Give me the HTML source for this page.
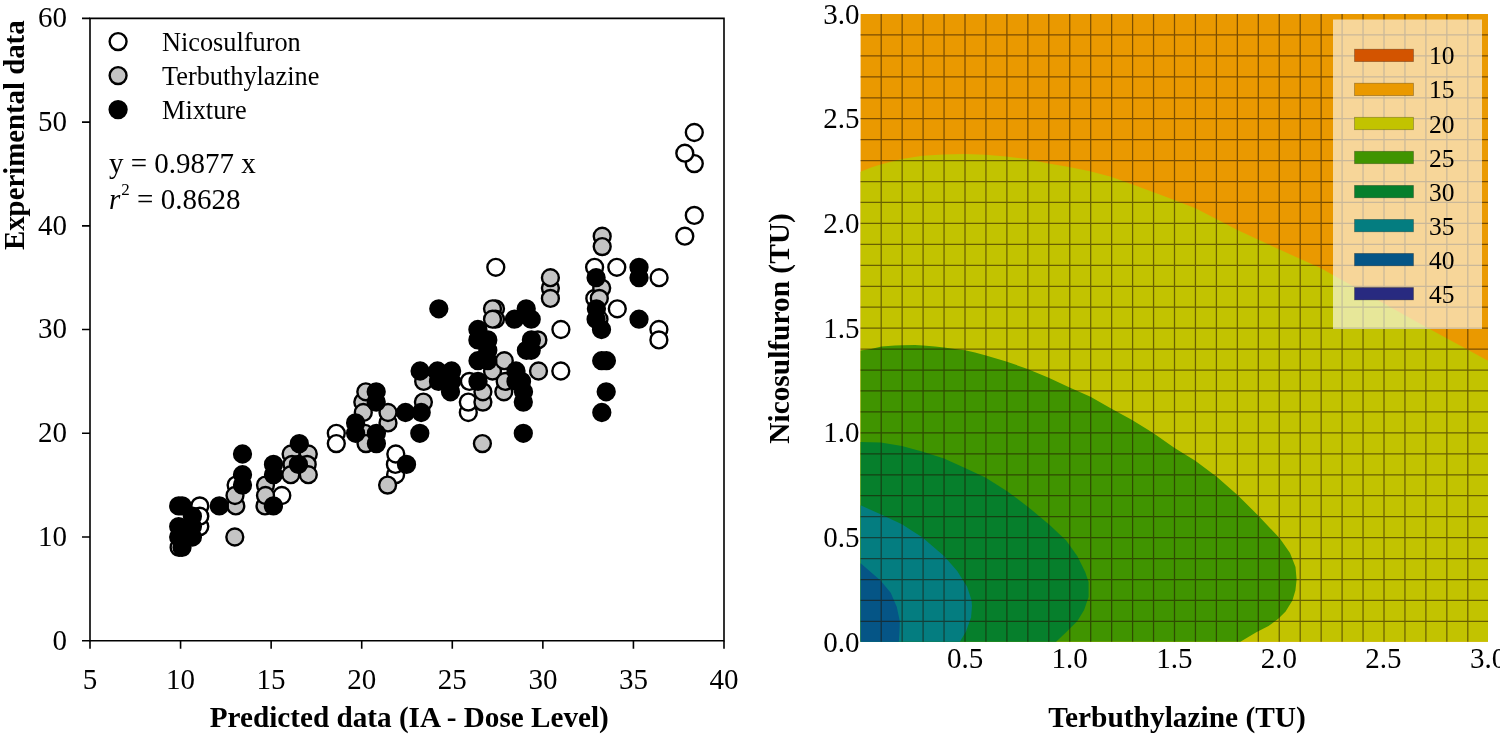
<!DOCTYPE html>
<html><head><meta charset="utf-8"><style>html,body{margin:0;padding:0;background:#fff;overflow:hidden}</style></head><body>
<svg width="1500" height="736" viewBox="0 0 1500 736" style="display:block;will-change:transform">
<rect width="1500" height="736" fill="#fff"/>
<rect x="860.6" y="14.0" width="627.4" height="627.7" fill="#EA9900"/>
<path d="M860.6,171.8 L871.0,167.5 L881.4,164.2 L901.9,159.1 L922.5,155.8 L943.0,154.4 L965.0,153.9 L985.5,154.7 L1006.1,156.4 L1026.6,159.1 L1048.6,163.5 L1069.1,167.1 L1090.0,171.3 L1111.0,176.7 L1132.0,184.3 L1153.0,192.0 L1175.0,200.3 L1196.0,208.5 L1238.0,230.3 L1279.0,249.3 L1321.0,268.3 L1333.0,275.0 L1425.5,326.8 L1488.0,360.7 L1488.0,641.7 L860.6,641.7 Z" fill="#C2C300"/>
<path d="M860.6,350.5 L871.0,349.0 L881.5,346.5 L895.0,345.5 L902.5,345.2 L915.0,345.0 L923.0,345.5 L935.0,346.5 L944.0,347.5 L955.0,349.0 L965.0,350.2 L975.0,352.5 L986.0,355.5 L1006.3,361.5 L1027.6,369.0 L1048.7,377.7 L1069.6,387.5 L1090.5,396.8 L1111.1,408.5 L1132.1,420.0 L1153.2,433.1 L1174.2,447.7 L1195.3,460.7 L1217.0,477.0 L1238.3,495.7 L1259.6,517.0 L1279.7,538.3 L1290.0,553.0 L1295.5,567.0 L1296.6,579.6 L1295.4,590.6 L1292.4,600.4 L1285.6,611.4 L1278.3,618.7 L1268.5,626.1 L1256.3,632.2 L1240.4,641.7 L860.6,641.7 Z" fill="#409400"/>
<path d="M860.6,442.0 L880.8,442.5 L901.9,446.0 L922.9,451.7 L944.0,458.5 L965.0,468.0 L985.4,477.5 L1006.8,491.0 L1028.1,506.9 L1049.4,524.8 L1066.2,540.5 L1077.4,556.2 L1085.2,571.9 L1088.6,582.0 L1088.6,597.0 L1084.1,609.9 L1077.4,621.1 L1066.2,632.3 L1056.1,641.7 L860.6,641.7 Z" fill="#067F2C"/>
<path d="M860.6,505.3 L880.6,514.3 L901.9,524.2 L922.5,537.5 L944.3,556.3 L957.0,570.8 L967.1,586.7 L971.5,600.0 L972.0,606.0 L971.1,617.3 L966.0,631.5 L959.9,641.7 L860.6,641.7 Z" fill="#047D80"/>
<path d="M860.6,563.3 L880.5,580.6 L890.7,592.8 L896.8,607.1 L899.8,621.3 L899.5,631.0 L898.8,641.7 L860.6,641.7 Z" fill="#055586"/>
<path d="M881.20,14.0V641.7M902.15,14.0V641.7M923.10,14.0V641.7M944.05,14.0V641.7M965.00,14.0V641.7M985.95,14.0V641.7M1006.90,14.0V641.7M1027.85,14.0V641.7M1048.80,14.0V641.7M1069.75,14.0V641.7M1090.70,14.0V641.7M1111.65,14.0V641.7M1132.60,14.0V641.7M1153.55,14.0V641.7M1174.50,14.0V641.7M1195.45,14.0V641.7M1216.40,14.0V641.7M1237.35,14.0V641.7M1258.30,14.0V641.7M1279.25,14.0V641.7M1300.20,14.0V641.7M1321.15,14.0V641.7M1342.10,14.0V641.7M1363.05,14.0V641.7M1384.00,14.0V641.7M1404.95,14.0V641.7M1425.90,14.0V641.7M1446.85,14.0V641.7M1467.80,14.0V641.7M860.6,621.40H1488.0M860.6,600.45H1488.0M860.6,579.51H1488.0M860.6,558.56H1488.0M860.6,537.62H1488.0M860.6,516.67H1488.0M860.6,495.72H1488.0M860.6,474.78H1488.0M860.6,453.83H1488.0M860.6,432.89H1488.0M860.6,411.94H1488.0M860.6,390.99H1488.0M860.6,370.05H1488.0M860.6,349.10H1488.0M860.6,328.16H1488.0M860.6,307.21H1488.0M860.6,286.26H1488.0M860.6,265.32H1488.0M860.6,244.37H1488.0M860.6,223.43H1488.0M860.6,202.48H1488.0M860.6,181.53H1488.0M860.6,160.59H1488.0M860.6,139.64H1488.0M860.6,118.70H1488.0M860.6,97.75H1488.0M860.6,76.80H1488.0M860.6,55.86H1488.0M860.6,34.91H1488.0" stroke="#201000" stroke-opacity="0.55" stroke-width="1.25" fill="none"/>
<rect x="1333" y="19.5" width="149" height="309.5" fill="#fff" fill-opacity="0.6"/>
<rect x="1354.5" y="49.2" width="59" height="12.4" fill="#D35400" stroke="#000" stroke-opacity="0.3" stroke-width="0.8"/>
<text x="1429" y="64.4" style="font-family:'Liberation Serif',serif;font-size:25.5px">10</text>
<rect x="1354.5" y="83.2" width="59" height="12.4" fill="#EA9900" stroke="#000" stroke-opacity="0.3" stroke-width="0.8"/>
<text x="1429" y="98.4" style="font-family:'Liberation Serif',serif;font-size:25.5px">15</text>
<rect x="1354.5" y="117.3" width="59" height="12.4" fill="#C2C300" stroke="#000" stroke-opacity="0.3" stroke-width="0.8"/>
<text x="1429" y="132.5" style="font-family:'Liberation Serif',serif;font-size:25.5px">20</text>
<rect x="1354.5" y="151.3" width="59" height="12.4" fill="#409400" stroke="#000" stroke-opacity="0.3" stroke-width="0.8"/>
<text x="1429" y="166.5" style="font-family:'Liberation Serif',serif;font-size:25.5px">25</text>
<rect x="1354.5" y="185.4" width="59" height="12.4" fill="#067F2C" stroke="#000" stroke-opacity="0.3" stroke-width="0.8"/>
<text x="1429" y="200.6" style="font-family:'Liberation Serif',serif;font-size:25.5px">30</text>
<rect x="1354.5" y="219.4" width="59" height="12.4" fill="#047D80" stroke="#000" stroke-opacity="0.3" stroke-width="0.8"/>
<text x="1429" y="234.6" style="font-family:'Liberation Serif',serif;font-size:25.5px">35</text>
<rect x="1354.5" y="253.4" width="59" height="12.4" fill="#055586" stroke="#000" stroke-opacity="0.3" stroke-width="0.8"/>
<text x="1429" y="268.6" style="font-family:'Liberation Serif',serif;font-size:25.5px">40</text>
<rect x="1354.5" y="287.5" width="59" height="12.4" fill="#282A80" stroke="#000" stroke-opacity="0.3" stroke-width="0.8"/>
<text x="1429" y="302.7" style="font-family:'Liberation Serif',serif;font-size:25.5px">45</text>
<text x="859.6" y="651.5" text-anchor="end" style="font-family:'Liberation Serif',serif;font-size:29px">0.0</text>
<text x="859.6" y="546.9" text-anchor="end" style="font-family:'Liberation Serif',serif;font-size:29px">0.5</text>
<text x="859.6" y="442.3" text-anchor="end" style="font-family:'Liberation Serif',serif;font-size:29px">1.0</text>
<text x="859.6" y="337.7" text-anchor="end" style="font-family:'Liberation Serif',serif;font-size:29px">1.5</text>
<text x="859.6" y="233.0" text-anchor="end" style="font-family:'Liberation Serif',serif;font-size:29px">2.0</text>
<text x="859.6" y="128.4" text-anchor="end" style="font-family:'Liberation Serif',serif;font-size:29px">2.5</text>
<text x="859.6" y="23.8" text-anchor="end" style="font-family:'Liberation Serif',serif;font-size:29px">3.0</text>
<text x="965.2" y="668.3" text-anchor="middle" style="font-family:'Liberation Serif',serif;font-size:29px">0.5</text>
<text x="1069.7" y="668.3" text-anchor="middle" style="font-family:'Liberation Serif',serif;font-size:29px">1.0</text>
<text x="1174.3" y="668.3" text-anchor="middle" style="font-family:'Liberation Serif',serif;font-size:29px">1.5</text>
<text x="1278.9" y="668.3" text-anchor="middle" style="font-family:'Liberation Serif',serif;font-size:29px">2.0</text>
<text x="1383.4" y="668.3" text-anchor="middle" style="font-family:'Liberation Serif',serif;font-size:29px">2.5</text>
<text x="1488.0" y="668.3" text-anchor="middle" style="font-family:'Liberation Serif',serif;font-size:29px">3.0</text>
<text x="1177" y="727.3" text-anchor="middle" style="font-family:'Liberation Serif',serif;font-size:29.4px;font-weight:bold">Terbuthylazine (TU)</text>
<text transform="translate(788.5,328.5) rotate(-90)" text-anchor="middle" style="font-family:'Liberation Serif',serif;font-size:29.4px;font-weight:bold">Nicosulfuron (TU)</text>
<path d="M90.0,18.4H724.0V640.7H90.0Z" stroke="#000" stroke-width="1.6" fill="none"/>
<path d="M82.0,640.70H90.0M82.0,536.98H90.0M82.0,433.27H90.0M82.0,329.55H90.0M82.0,225.83H90.0M82.0,122.12H90.0M82.0,18.40H90.0M90.00,640.7V648.7M180.57,640.7V648.7M271.14,640.7V648.7M361.71,640.7V648.7M452.29,640.7V648.7M542.86,640.7V648.7M633.43,640.7V648.7M724.00,640.7V648.7" stroke="#000" stroke-width="1.6" fill="none"/>
<text x="67" y="649.6" text-anchor="end" style="font-family:'Liberation Serif',serif;font-size:29px">0</text>
<text x="67" y="545.9" text-anchor="end" style="font-family:'Liberation Serif',serif;font-size:29px">10</text>
<text x="67" y="442.2" text-anchor="end" style="font-family:'Liberation Serif',serif;font-size:29px">20</text>
<text x="67" y="338.4" text-anchor="end" style="font-family:'Liberation Serif',serif;font-size:29px">30</text>
<text x="67" y="234.7" text-anchor="end" style="font-family:'Liberation Serif',serif;font-size:29px">40</text>
<text x="67" y="131.0" text-anchor="end" style="font-family:'Liberation Serif',serif;font-size:29px">50</text>
<text x="67" y="27.3" text-anchor="end" style="font-family:'Liberation Serif',serif;font-size:29px">60</text>
<text x="90.0" y="689" text-anchor="middle" style="font-family:'Liberation Serif',serif;font-size:29px">5</text>
<text x="180.6" y="689" text-anchor="middle" style="font-family:'Liberation Serif',serif;font-size:29px">10</text>
<text x="271.1" y="689" text-anchor="middle" style="font-family:'Liberation Serif',serif;font-size:29px">15</text>
<text x="361.7" y="689" text-anchor="middle" style="font-family:'Liberation Serif',serif;font-size:29px">20</text>
<text x="452.3" y="689" text-anchor="middle" style="font-family:'Liberation Serif',serif;font-size:29px">25</text>
<text x="542.9" y="689" text-anchor="middle" style="font-family:'Liberation Serif',serif;font-size:29px">30</text>
<text x="633.4" y="689" text-anchor="middle" style="font-family:'Liberation Serif',serif;font-size:29px">35</text>
<text x="724.0" y="689" text-anchor="middle" style="font-family:'Liberation Serif',serif;font-size:29px">40</text>
<text x="409.3" y="727" text-anchor="middle" style="font-family:'Liberation Serif',serif;font-size:29.2px;font-weight:bold">Predicted data (IA - Dose Level)</text>
<text transform="translate(23.5,135.2) rotate(-90)" text-anchor="middle" style="font-family:'Liberation Serif',serif;font-size:28.8px;font-weight:bold">Experimental data</text>
<circle cx="118.1" cy="41.6" r="8.45" fill="#fff" stroke="#000" stroke-width="2.4"/>
<text x="162" y="50.6" style="font-family:'Liberation Serif',serif;font-size:26.3px">Nicosulfuron</text>
<circle cx="118.1" cy="75.6" r="8.45" fill="#c4c4c4" stroke="#000" stroke-width="2.4"/>
<text x="162" y="84.6" style="font-family:'Liberation Serif',serif;font-size:26.3px">Terbuthylazine</text>
<circle cx="118.1" cy="109.6" r="8.45" fill="#000" stroke="#000" stroke-width="2.4"/>
<text x="162" y="118.6" style="font-family:'Liberation Serif',serif;font-size:26.3px">Mixture</text>
<text x="109" y="172.7" style="font-family:'Liberation Serif',serif;font-size:29px">y = 0.9877 x</text>
<text x="109" y="208.7" style="font-family:'Liberation Serif',serif;font-size:29px"><tspan font-style="italic">r</tspan><tspan dy="-13.5" dx="1" font-size="17">2</tspan><tspan dy="13.5"> = 0.8628</tspan></text>
<circle cx="179.1" cy="547.4" r="8.45" fill="#fff" stroke="#000" stroke-width="2.4"/>
<circle cx="199.8" cy="505.9" r="8.45" fill="#fff" stroke="#000" stroke-width="2.4"/>
<circle cx="199.8" cy="526.6" r="8.45" fill="#fff" stroke="#000" stroke-width="2.4"/>
<circle cx="199.8" cy="516.2" r="8.45" fill="#fff" stroke="#000" stroke-width="2.4"/>
<circle cx="236.1" cy="485.1" r="8.45" fill="#fff" stroke="#000" stroke-width="2.4"/>
<circle cx="281.8" cy="495.5" r="8.45" fill="#fff" stroke="#000" stroke-width="2.4"/>
<circle cx="336.3" cy="433.3" r="8.45" fill="#fff" stroke="#000" stroke-width="2.4"/>
<circle cx="336.3" cy="443.6" r="8.45" fill="#fff" stroke="#000" stroke-width="2.4"/>
<circle cx="395.6" cy="474.7" r="8.45" fill="#fff" stroke="#000" stroke-width="2.4"/>
<circle cx="395.4" cy="464.4" r="8.45" fill="#fff" stroke="#000" stroke-width="2.4"/>
<circle cx="395.8" cy="454.0" r="8.45" fill="#fff" stroke="#000" stroke-width="2.4"/>
<circle cx="469.4" cy="381.4" r="8.45" fill="#fff" stroke="#000" stroke-width="2.4"/>
<circle cx="468.3" cy="412.5" r="8.45" fill="#fff" stroke="#000" stroke-width="2.4"/>
<circle cx="468.3" cy="402.1" r="8.45" fill="#fff" stroke="#000" stroke-width="2.4"/>
<circle cx="495.8" cy="267.3" r="8.45" fill="#fff" stroke="#000" stroke-width="2.4"/>
<circle cx="560.9" cy="329.5" r="8.45" fill="#fff" stroke="#000" stroke-width="2.4"/>
<circle cx="560.8" cy="371.0" r="8.45" fill="#fff" stroke="#000" stroke-width="2.4"/>
<circle cx="594.6" cy="267.3" r="8.45" fill="#fff" stroke="#000" stroke-width="2.4"/>
<circle cx="616.8" cy="267.3" r="8.45" fill="#fff" stroke="#000" stroke-width="2.4"/>
<circle cx="594.8" cy="298.4" r="8.45" fill="#fff" stroke="#000" stroke-width="2.4"/>
<circle cx="617.3" cy="308.8" r="8.45" fill="#fff" stroke="#000" stroke-width="2.4"/>
<circle cx="599.0" cy="319.2" r="8.45" fill="#fff" stroke="#000" stroke-width="2.4"/>
<circle cx="659.1" cy="277.7" r="8.45" fill="#fff" stroke="#000" stroke-width="2.4"/>
<circle cx="658.9" cy="329.5" r="8.45" fill="#fff" stroke="#000" stroke-width="2.4"/>
<circle cx="658.9" cy="339.9" r="8.45" fill="#fff" stroke="#000" stroke-width="2.4"/>
<circle cx="694.3" cy="132.5" r="8.45" fill="#fff" stroke="#000" stroke-width="2.4"/>
<circle cx="694.3" cy="163.6" r="8.45" fill="#fff" stroke="#000" stroke-width="2.4"/>
<circle cx="684.8" cy="153.2" r="8.45" fill="#fff" stroke="#000" stroke-width="2.4"/>
<circle cx="694.3" cy="215.4" r="8.45" fill="#fff" stroke="#000" stroke-width="2.4"/>
<circle cx="684.8" cy="236.2" r="8.45" fill="#fff" stroke="#000" stroke-width="2.4"/>
<circle cx="234.8" cy="537.0" r="8.45" fill="#c4c4c4" stroke="#000" stroke-width="2.4"/>
<circle cx="235.8" cy="505.9" r="8.45" fill="#c4c4c4" stroke="#000" stroke-width="2.4"/>
<circle cx="235.0" cy="495.5" r="8.45" fill="#c4c4c4" stroke="#000" stroke-width="2.4"/>
<circle cx="265.5" cy="485.1" r="8.45" fill="#c4c4c4" stroke="#000" stroke-width="2.4"/>
<circle cx="265.0" cy="505.9" r="8.45" fill="#c4c4c4" stroke="#000" stroke-width="2.4"/>
<circle cx="265.5" cy="495.5" r="8.45" fill="#c4c4c4" stroke="#000" stroke-width="2.4"/>
<circle cx="291.1" cy="454.0" r="8.45" fill="#c4c4c4" stroke="#000" stroke-width="2.4"/>
<circle cx="308.3" cy="454.0" r="8.45" fill="#c4c4c4" stroke="#000" stroke-width="2.4"/>
<circle cx="292.0" cy="464.4" r="8.45" fill="#c4c4c4" stroke="#000" stroke-width="2.4"/>
<circle cx="307.2" cy="464.4" r="8.45" fill="#c4c4c4" stroke="#000" stroke-width="2.4"/>
<circle cx="290.8" cy="474.7" r="8.45" fill="#c4c4c4" stroke="#000" stroke-width="2.4"/>
<circle cx="308.3" cy="474.7" r="8.45" fill="#c4c4c4" stroke="#000" stroke-width="2.4"/>
<circle cx="362.8" cy="402.1" r="8.45" fill="#c4c4c4" stroke="#000" stroke-width="2.4"/>
<circle cx="365.8" cy="391.8" r="8.45" fill="#c4c4c4" stroke="#000" stroke-width="2.4"/>
<circle cx="363.3" cy="412.5" r="8.45" fill="#c4c4c4" stroke="#000" stroke-width="2.4"/>
<circle cx="364.8" cy="433.3" r="8.45" fill="#c4c4c4" stroke="#000" stroke-width="2.4"/>
<circle cx="366.0" cy="443.6" r="8.45" fill="#c4c4c4" stroke="#000" stroke-width="2.4"/>
<circle cx="388.0" cy="422.9" r="8.45" fill="#c4c4c4" stroke="#000" stroke-width="2.4"/>
<circle cx="388.0" cy="412.5" r="8.45" fill="#c4c4c4" stroke="#000" stroke-width="2.4"/>
<circle cx="387.6" cy="485.1" r="8.45" fill="#c4c4c4" stroke="#000" stroke-width="2.4"/>
<circle cx="423.4" cy="402.1" r="8.45" fill="#c4c4c4" stroke="#000" stroke-width="2.4"/>
<circle cx="423.7" cy="381.4" r="8.45" fill="#c4c4c4" stroke="#000" stroke-width="2.4"/>
<circle cx="482.9" cy="402.1" r="8.45" fill="#c4c4c4" stroke="#000" stroke-width="2.4"/>
<circle cx="482.9" cy="391.8" r="8.45" fill="#c4c4c4" stroke="#000" stroke-width="2.4"/>
<circle cx="482.4" cy="443.6" r="8.45" fill="#c4c4c4" stroke="#000" stroke-width="2.4"/>
<circle cx="492.5" cy="371.0" r="8.45" fill="#c4c4c4" stroke="#000" stroke-width="2.4"/>
<circle cx="504.3" cy="360.7" r="8.45" fill="#c4c4c4" stroke="#000" stroke-width="2.4"/>
<circle cx="503.8" cy="391.8" r="8.45" fill="#c4c4c4" stroke="#000" stroke-width="2.4"/>
<circle cx="505.2" cy="381.4" r="8.45" fill="#c4c4c4" stroke="#000" stroke-width="2.4"/>
<circle cx="495.5" cy="308.8" r="8.45" fill="#c4c4c4" stroke="#000" stroke-width="2.4"/>
<circle cx="492.5" cy="308.8" r="8.45" fill="#c4c4c4" stroke="#000" stroke-width="2.4"/>
<circle cx="495.5" cy="319.2" r="8.45" fill="#c4c4c4" stroke="#000" stroke-width="2.4"/>
<circle cx="492.5" cy="319.2" r="8.45" fill="#c4c4c4" stroke="#000" stroke-width="2.4"/>
<circle cx="550.4" cy="288.1" r="8.45" fill="#c4c4c4" stroke="#000" stroke-width="2.4"/>
<circle cx="550.4" cy="277.7" r="8.45" fill="#c4c4c4" stroke="#000" stroke-width="2.4"/>
<circle cx="550.4" cy="298.4" r="8.45" fill="#c4c4c4" stroke="#000" stroke-width="2.4"/>
<circle cx="537.9" cy="339.9" r="8.45" fill="#c4c4c4" stroke="#000" stroke-width="2.4"/>
<circle cx="538.5" cy="371.0" r="8.45" fill="#c4c4c4" stroke="#000" stroke-width="2.4"/>
<circle cx="602.2" cy="236.2" r="8.45" fill="#c4c4c4" stroke="#000" stroke-width="2.4"/>
<circle cx="602.2" cy="246.6" r="8.45" fill="#c4c4c4" stroke="#000" stroke-width="2.4"/>
<circle cx="601.7" cy="288.1" r="8.45" fill="#c4c4c4" stroke="#000" stroke-width="2.4"/>
<circle cx="599.3" cy="298.4" r="8.45" fill="#c4c4c4" stroke="#000" stroke-width="2.4"/>
<circle cx="178.7" cy="505.9" r="8.45" fill="#000" stroke="#000" stroke-width="2.4"/>
<circle cx="182.2" cy="505.9" r="8.45" fill="#000" stroke="#000" stroke-width="2.4"/>
<circle cx="178.7" cy="526.6" r="8.45" fill="#000" stroke="#000" stroke-width="2.4"/>
<circle cx="178.7" cy="537.0" r="8.45" fill="#000" stroke="#000" stroke-width="2.4"/>
<circle cx="192.4" cy="516.2" r="8.45" fill="#000" stroke="#000" stroke-width="2.4"/>
<circle cx="192.4" cy="526.6" r="8.45" fill="#000" stroke="#000" stroke-width="2.4"/>
<circle cx="192.4" cy="537.0" r="8.45" fill="#000" stroke="#000" stroke-width="2.4"/>
<circle cx="182.0" cy="547.4" r="8.45" fill="#000" stroke="#000" stroke-width="2.4"/>
<circle cx="219.3" cy="505.9" r="8.45" fill="#000" stroke="#000" stroke-width="2.4"/>
<circle cx="242.5" cy="454.0" r="8.45" fill="#000" stroke="#000" stroke-width="2.4"/>
<circle cx="242.5" cy="474.7" r="8.45" fill="#000" stroke="#000" stroke-width="2.4"/>
<circle cx="242.5" cy="485.1" r="8.45" fill="#000" stroke="#000" stroke-width="2.4"/>
<circle cx="273.5" cy="464.4" r="8.45" fill="#000" stroke="#000" stroke-width="2.4"/>
<circle cx="273.5" cy="474.7" r="8.45" fill="#000" stroke="#000" stroke-width="2.4"/>
<circle cx="273.4" cy="505.9" r="8.45" fill="#000" stroke="#000" stroke-width="2.4"/>
<circle cx="299.3" cy="443.6" r="8.45" fill="#000" stroke="#000" stroke-width="2.4"/>
<circle cx="298.4" cy="464.4" r="8.45" fill="#000" stroke="#000" stroke-width="2.4"/>
<circle cx="355.6" cy="422.9" r="8.45" fill="#000" stroke="#000" stroke-width="2.4"/>
<circle cx="355.6" cy="433.3" r="8.45" fill="#000" stroke="#000" stroke-width="2.4"/>
<circle cx="376.2" cy="391.8" r="8.45" fill="#000" stroke="#000" stroke-width="2.4"/>
<circle cx="376.2" cy="402.1" r="8.45" fill="#000" stroke="#000" stroke-width="2.4"/>
<circle cx="376.4" cy="433.3" r="8.45" fill="#000" stroke="#000" stroke-width="2.4"/>
<circle cx="376.4" cy="443.6" r="8.45" fill="#000" stroke="#000" stroke-width="2.4"/>
<circle cx="405.5" cy="412.5" r="8.45" fill="#000" stroke="#000" stroke-width="2.4"/>
<circle cx="421.2" cy="412.5" r="8.45" fill="#000" stroke="#000" stroke-width="2.4"/>
<circle cx="419.8" cy="433.3" r="8.45" fill="#000" stroke="#000" stroke-width="2.4"/>
<circle cx="406.5" cy="464.4" r="8.45" fill="#000" stroke="#000" stroke-width="2.4"/>
<circle cx="420.1" cy="371.0" r="8.45" fill="#000" stroke="#000" stroke-width="2.4"/>
<circle cx="437.5" cy="371.0" r="8.45" fill="#000" stroke="#000" stroke-width="2.4"/>
<circle cx="451.6" cy="371.0" r="8.45" fill="#000" stroke="#000" stroke-width="2.4"/>
<circle cx="438.5" cy="381.4" r="8.45" fill="#000" stroke="#000" stroke-width="2.4"/>
<circle cx="451.5" cy="381.4" r="8.45" fill="#000" stroke="#000" stroke-width="2.4"/>
<circle cx="450.5" cy="391.8" r="8.45" fill="#000" stroke="#000" stroke-width="2.4"/>
<circle cx="438.8" cy="308.8" r="8.45" fill="#000" stroke="#000" stroke-width="2.4"/>
<circle cx="477.9" cy="329.5" r="8.45" fill="#000" stroke="#000" stroke-width="2.4"/>
<circle cx="477.9" cy="339.9" r="8.45" fill="#000" stroke="#000" stroke-width="2.4"/>
<circle cx="487.8" cy="339.9" r="8.45" fill="#000" stroke="#000" stroke-width="2.4"/>
<circle cx="487.8" cy="350.3" r="8.45" fill="#000" stroke="#000" stroke-width="2.4"/>
<circle cx="478.0" cy="360.7" r="8.45" fill="#000" stroke="#000" stroke-width="2.4"/>
<circle cx="487.8" cy="360.7" r="8.45" fill="#000" stroke="#000" stroke-width="2.4"/>
<circle cx="478.0" cy="381.4" r="8.45" fill="#000" stroke="#000" stroke-width="2.4"/>
<circle cx="516.0" cy="371.0" r="8.45" fill="#000" stroke="#000" stroke-width="2.4"/>
<circle cx="516.0" cy="381.4" r="8.45" fill="#000" stroke="#000" stroke-width="2.4"/>
<circle cx="521.5" cy="381.4" r="8.45" fill="#000" stroke="#000" stroke-width="2.4"/>
<circle cx="523.5" cy="391.8" r="8.45" fill="#000" stroke="#000" stroke-width="2.4"/>
<circle cx="523.3" cy="402.1" r="8.45" fill="#000" stroke="#000" stroke-width="2.4"/>
<circle cx="523.3" cy="433.3" r="8.45" fill="#000" stroke="#000" stroke-width="2.4"/>
<circle cx="526.2" cy="308.8" r="8.45" fill="#000" stroke="#000" stroke-width="2.4"/>
<circle cx="514.5" cy="319.2" r="8.45" fill="#000" stroke="#000" stroke-width="2.4"/>
<circle cx="531.2" cy="319.2" r="8.45" fill="#000" stroke="#000" stroke-width="2.4"/>
<circle cx="531.4" cy="339.9" r="8.45" fill="#000" stroke="#000" stroke-width="2.4"/>
<circle cx="526.4" cy="350.3" r="8.45" fill="#000" stroke="#000" stroke-width="2.4"/>
<circle cx="531.2" cy="350.3" r="8.45" fill="#000" stroke="#000" stroke-width="2.4"/>
<circle cx="596.1" cy="277.7" r="8.45" fill="#000" stroke="#000" stroke-width="2.4"/>
<circle cx="596.4" cy="308.8" r="8.45" fill="#000" stroke="#000" stroke-width="2.4"/>
<circle cx="596.1" cy="319.2" r="8.45" fill="#000" stroke="#000" stroke-width="2.4"/>
<circle cx="601.5" cy="329.5" r="8.45" fill="#000" stroke="#000" stroke-width="2.4"/>
<circle cx="601.7" cy="360.7" r="8.45" fill="#000" stroke="#000" stroke-width="2.4"/>
<circle cx="606.4" cy="360.7" r="8.45" fill="#000" stroke="#000" stroke-width="2.4"/>
<circle cx="606.2" cy="391.8" r="8.45" fill="#000" stroke="#000" stroke-width="2.4"/>
<circle cx="601.8" cy="412.5" r="8.45" fill="#000" stroke="#000" stroke-width="2.4"/>
<circle cx="639.0" cy="267.3" r="8.45" fill="#000" stroke="#000" stroke-width="2.4"/>
<circle cx="639.0" cy="277.7" r="8.45" fill="#000" stroke="#000" stroke-width="2.4"/>
<circle cx="639.0" cy="319.2" r="8.45" fill="#000" stroke="#000" stroke-width="2.4"/>
</svg>
</body></html>
